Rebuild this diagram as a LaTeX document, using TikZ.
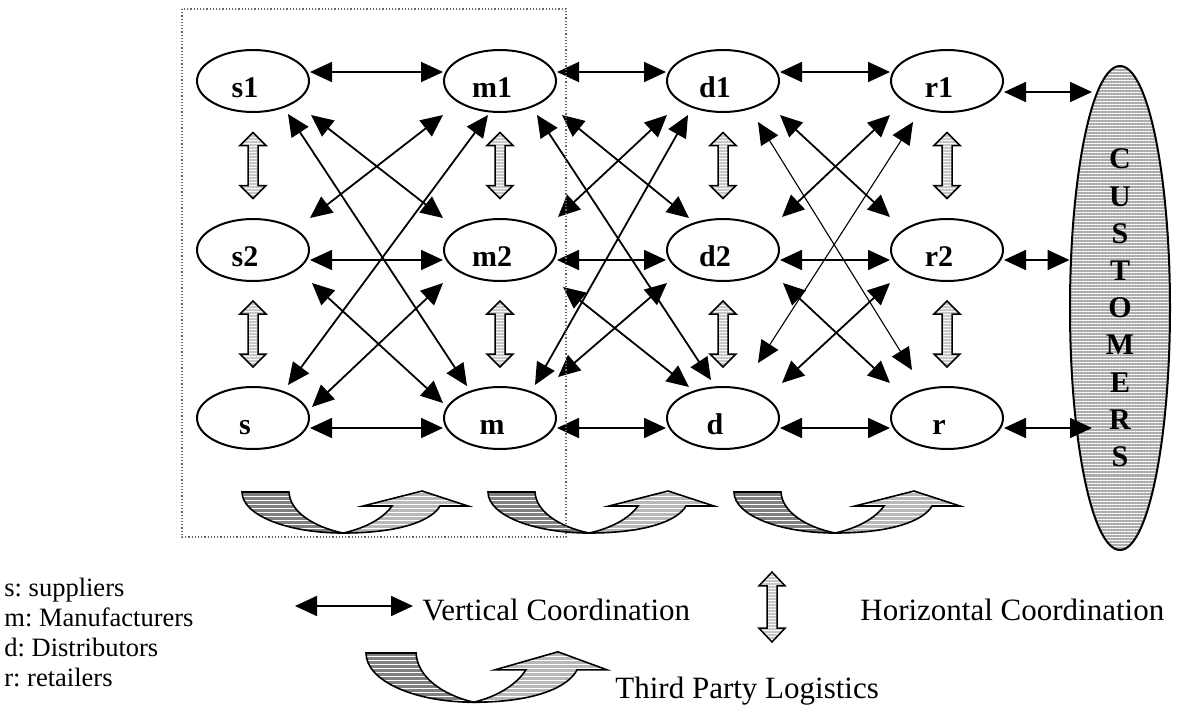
\documentclass[tikz,border=0pt]{standalone}
\usepackage{fontspec}
\setmainfont{Liberation Serif}
\frenchspacing
\usetikzlibrary{arrows.meta,shapes.geometric,patterns.meta,calc}

\tikzset{
  firm/.style={ellipse, draw, line width=1pt, minimum width=56pt, minimum height=31pt, inner sep=0pt,
    font=\bfseries\fontsize{15}{15}\selectfont, text height=16pt, text depth=0pt,
    execute at end node={\hspace*{8pt}}},
  link/.style={line width=0.9pt, {Triangle[length=11pt,width=10pt]}-{Triangle[length=11pt,width=10pt]}},
  thinlink/.style={link, line width=0.55pt},
  stripes/.style={pattern={Lines[angle=0,distance=#1,line width=0.5pt]}, pattern color=white},
  legend/.style={anchor=base west, inner sep=0pt, font=\fontsize{13.25}{15}\selectfont},
  keytext/.style={anchor=base west, inner sep=0pt, font=\fontsize{15.5}{18}\selectfont},
  hcarrow/.pic={
    \draw[line width=0.75pt, preaction={fill=black!22}, stripes=1.5pt]
      (0,-33) -- (13,-20) -- (5,-20) -- (5,20) -- (13,20) -- (0,33) -- (-13,20) -- (-5,20) -- (-5,-20) -- (-13,-20) -- cycle;
  },
  tpl/.pic={
    \draw[line width=0.8pt, preaction={fill=black!50}, stripes=2pt]
      (0,0) -- (47,0) .. controls (48,20) and (72,35) .. (101,41) .. controls (45,41) and (0,23) .. (0,0) -- cycle;
    \draw[line width=0.8pt, preaction={fill=black!28}, stripes=2pt]
      (101,41) .. controls (160,41) and (190,28) .. (198,14) -- (226,14) -- (180,-1) -- (121,14) -- (150,14)
      .. controls (140,28) and (120,37) .. (101,41) -- cycle;
  }
}

\begin{document}
\begin{tikzpicture}[x=0.5pt,y=-0.5pt]
\useasboundingbox (0,0) rectangle (1184,708);

% supply chain members
\node[firm] (s1) at (253,81) {s1};
\node[firm] (s2) at (253,250) {s2};
\node[firm] (sn) at (253,418) {s};
\node[firm] (m1) at (500,81) {m1};
\node[firm] (m2) at (500,250) {m2};
\node[firm] (mn) at (500,418) {m};
\node[firm] (d1) at (723,81) {d1};
\node[firm] (d2) at (723,250) {d2};
\node[firm] (dn) at (723,418) {d};
\node[firm] (r1) at (947,81) {r1};
\node[firm] (r2) at (947,250) {r2};
\node[firm] (rn) at (947,418) {r};
\node[ellipse, draw, line width=1pt, minimum width=50pt, minimum height=242pt, inner sep=0pt,
  preaction={fill=black!32}, stripes=1.5pt, align=center,
  font=\bfseries\fontsize{15}{18.6}\selectfont] (cust) at (1120,308) {C\\U\\S\\T\\O\\M\\E\\R\\S};

% vertical coordination along the rows
\draw[link] ([shift={(0,-9)}]s1.east) -- ([shift={(0,-9)}]m1.west);
\draw[link] ([shift={(0,-9)}]m1.east) -- ([shift={(0,-9)}]d1.west);
\draw[link] ([shift={(0,-9)}]d1.east) -- ([shift={(0,-9)}]r1.west);
\draw[link] ([shift={(0,10)}]s2.east) -- ([shift={(0,10)}]m2.west);
\draw[link] ([shift={(0,10)}]m2.east) -- ([shift={(0,10)}]d2.west);
\draw[link] ([shift={(0,10)}]d2.east) -- ([shift={(0,10)}]r2.west);
\draw[link] ([shift={(0,10)}]sn.east) -- ([shift={(0,10)}]mn.west);
\draw[link] ([shift={(0,10)}]mn.east) -- ([shift={(0,10)}]dn.west);
\draw[link] ([shift={(0,10)}]dn.east) -- ([shift={(0,10)}]rn.west);
\draw[link] ([shift={(0,11)}]r1.east) -- ([shift={(-28,-216)}]cust.center);
\draw[link] ([shift={(0,10)}]r2.east) -- ([shift={(0,-48)}]cust.west);
\draw[link] ([shift={(0,10)}]rn.east) -- ([shift={(-28,120)}]cust.center);

% suppliers - manufacturers
\draw[link] ([shift={(58,34)}]s1.center) -- ([shift={(-57,-32)}]m2.center);
\draw[link] ([shift={(35,33)}]s1.center) -- ([shift={(-33,-32)}]mn.center);
\draw[link] ([shift={(-57,34)}]m1.center) -- ([shift={(57,-32)}]s2.center);
\draw[link] ([shift={(-12,34)}]m1.center) -- ([shift={(35,-33)}]sn.center);
\draw[link] ([shift={(59,33)}]s2.center) -- ([shift={(-57,-15)}]mn.center);
\draw[link] ([shift={(-57,33)}]m2.center) -- ([shift={(59,-11)}]sn.center);
% manufacturers - distributors
\draw[link] ([shift={(62,34)}]m1.center) -- ([shift={(-34,-32)}]d2.center);
\draw[link] ([shift={(37,34)}]m1.center) -- ([shift={(-12,-38)}]dn.center);
\draw[link] ([shift={(-56,34)}]d1.center) -- ([shift={(58,-33)}]m2.center);
\draw[link] ([shift={(-35,34)}]d1.center) -- ([shift={(35,-33)}]mn.center);
\draw[link] ([shift={(63,37)}]m2.center) -- ([shift={(-34,-31)}]dn.center);
\draw[link] ([shift={(-56,33)}]d2.center) -- ([shift={(58,-41)}]mn.center);
% distributors - retailers
\draw[link] ([shift={(57,34)}]d1.center) -- ([shift={(-57,-33)}]r2.center);
\draw[thinlink] ([shift={(35,41)}]d1.center) -- ([shift={(-35,-48)}]rn.center);
\draw[link] ([shift={(-57,34)}]r1.center) -- ([shift={(59,-33)}]d2.center);
\draw[thinlink] ([shift={(-34,41)}]r1.center) -- ([shift={(35,-55)}]dn.center);
\draw[link] ([shift={(60,33)}]d2.center) -- ([shift={(-57,-35)}]rn.center);
\draw[link] ([shift={(-57,33)}]r2.center) -- ([shift={(59,-35)}]dn.center);

% horizontal coordination inside each tier
\pic at ($(s1)!.5!(s2)$) {hcarrow};
\pic at ($(s2)!.5!(sn)$) {hcarrow};
\pic at ($(m1)!.5!(m2)$) {hcarrow};
\pic at ($(m2)!.5!(mn)$) {hcarrow};
\pic at ($(d1)!.5!(d2)$) {hcarrow};
\pic at ($(d2)!.5!(dn)$) {hcarrow};
\pic at ($(r1)!.5!(r2)$) {hcarrow};
\pic at ($(r2)!.5!(rn)$) {hcarrow};

% third party logistics
\pic at (242,492) {tpl};
\pic at (488,492) {tpl};
\pic at (734,492) {tpl};

\draw[black!60, line width=0.6pt, dash pattern=on 0.6pt off 1pt] (182,9) rectangle (566,537);

% legend
\node[legend] (keys) at (4,596) {s: suppliers};
\node[legend] (keym) at (4,626) {m: Manufacturers};
\node[legend] (keyd) at (4,656) {d: Distributors};
\node[legend] (keyr) at (4,686) {r: retailers};
\coordinate (vcl) at (295,606);
\coordinate (vcr) at (413,606);
\draw[link] (vcl) -- (vcr);
\node[keytext] (vctext) at (422,620) {Vertical Coordination};
\pic[yscale=1.06] at (772,607) {hcarrow};
\node[keytext] (hctext) at (860,620) {Horizontal Coordination};
\pic[xscale=1.066,yscale=1.2] at (366,653) {tpl};
\node[keytext] (tpltext) at (615,698) {Third Party Logistics};
\end{tikzpicture}
\end{document}
